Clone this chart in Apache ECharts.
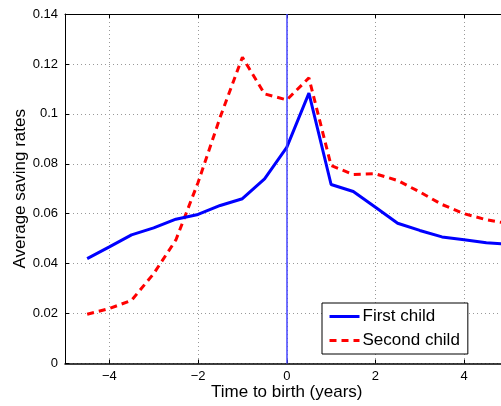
<!DOCTYPE html>
<html>
<head>
<meta charset="utf-8">
<script src="https://cdn.jsdelivr.net/npm/echarts@6/dist/echarts.min.js"></script>
<style>
  html, body { margin: 0; padding: 0; background: #fff; }
  #chart { width: 501px; height: 406px; }
</style>
</head>
<body>
<div id="chart"></div>
<script>
/* ---------- data ---------- */
const years = [-4.5, -4, -3.5, -3, -2.5, -2, -1.5, -1, -0.5, 0, 0.5, 1, 1.5, 2, 2.5, 3, 3.5, 4, 4.5, 5];
const firstChild  = [0.042, 0.0467, 0.0515, 0.0543, 0.0578, 0.0597, 0.0633, 0.066, 0.074, 0.0866,
                     0.1083, 0.0717, 0.0689, 0.0626, 0.0562, 0.0533, 0.0507, 0.0496, 0.0484, 0.0478];
const secondChild = [0.0197, 0.022, 0.0253, 0.036, 0.0495, 0.0725, 0.0987, 0.1227, 0.108, 0.1056,
                     0.1144, 0.0793, 0.0757, 0.076, 0.0733, 0.0687, 0.0637, 0.060, 0.0576, 0.056];
const xTicks = [-4, -2, 0, 2, 4];
const seriesNames = ["First child", "Second child"];

/* ---------- style ---------- */
const FONT = "'Liberation Sans', Arial, Helvetica, sans-serif";
const gridDots = { show: true, lineStyle: { color: "#999", width: 1, type: [1, 3] } };

const chart = echarts.init(document.getElementById("chart"), null, { renderer: "canvas" });

const pairs = (vals) => vals.map((v, i) => [years[i], v]);

chart.setOption({
    animation: false,
    backgroundColor: "#fff",
    textStyle: { fontFamily: FONT },
    grid: { left: 65, top: 14, width: 443.5, height: 349.5, outerBoundsMode: "none" },
    legend: {
        left: 322, top: 303,
        orient: "vertical",
        backgroundColor: "#fff",
        borderColor: "#000", borderWidth: 1, borderRadius: 0,
        padding: [5, 8, 5, 6],
        itemWidth: 30, itemHeight: 14, itemGap: 7,
        itemStyle: { opacity: 0 },
        lineStyle: { width: 3 },
        textStyle: { fontFamily: FONT, fontSize: 17, color: "#000", padding: [0, 0, 0, -2] },
        data: seriesNames,
    },
    xAxis: [
        {
            type: "value", min: -5, max: 5,
            name: "Time to birth (years)", nameLocation: "middle", nameGap: 20,
            nameMoveOverlap: false,
            nameTextStyle: { fontFamily: FONT, fontSize: 17, color: "#000" },
            axisLine: { show: true, onZero: false, lineStyle: { color: "#000", width: 1.5 } },
            axisTick: { show: true, inside: true, length: 4, customValues: xTicks, lineStyle: { color: "#000" } },
            axisLabel: {
                customValues: xTicks, margin: 6,
                fontFamily: FONT, fontSize: 13, color: "#000",
                formatter: (v) => String(v).replace("-", "\u2212"),
            },
            splitLine: gridDots,
        },
        {
            type: "value", min: -5, max: 5, position: "top",
            axisLine: { show: true, onZero: false, lineStyle: { color: "#000", width: 1 } },
            axisTick: { show: true, inside: true, length: 4, customValues: xTicks, lineStyle: { color: "#000" } },
            axisLabel: { show: false },
            splitLine: { show: false },
        },
    ],
    yAxis: {
        type: "value", min: 0, max: 0.14, interval: 0.02,
        name: "Average saving rates", nameLocation: "middle", nameGap: 36,
        nameMoveOverlap: false,
        nameTextStyle: { fontFamily: FONT, fontSize: 17, color: "#000" },
        axisLine: { show: true, onZero: false, lineStyle: { color: "#000", width: 1 } },
        axisTick: { show: true, inside: true, length: 4, lineStyle: { color: "#000" } },
        axisLabel: {
            margin: 7, fontFamily: FONT, fontSize: 13, color: "#000",
            formatter: (v) => String(+v.toFixed(2)),
        },
        splitLine: gridDots,
    },
    series: [
        {
            name: seriesNames[0], type: "line", xAxisIndex: 0,
            data: pairs(firstChild),
            symbol: "none", smooth: false,
            lineStyle: { color: "#0000ff", width: 3 },
            itemStyle: { color: "#0000ff" },
            markLine: {
                silent: true, symbol: "none",
                label: { show: false },
                lineStyle: { color: "#4444ff", opacity: 1, width: 1.5, type: "solid" },
                emphasis: { disabled: true },
                data: [{ xAxis: 0 }],
            },
            z: 3,
        },
        {
            name: seriesNames[1], type: "line", xAxisIndex: 0,
            data: pairs(secondChild),
            symbol: "none", smooth: false,
            lineStyle: { color: "#ff0000", width: 3, type: [7, 5] },
            itemStyle: { color: "#ff0000" },
            z: 2,
        },
    ],
});
</script>
</body>
</html>
